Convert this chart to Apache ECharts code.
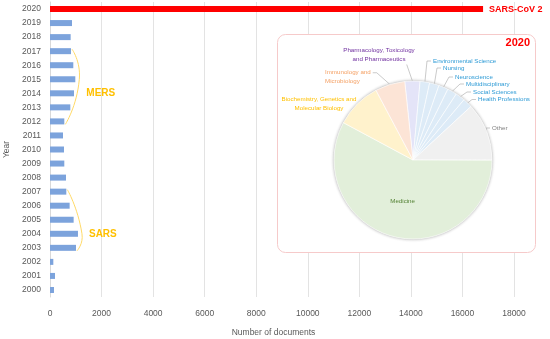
<!DOCTYPE html>
<html><head><meta charset="utf-8">
<script src="https://cdn.jsdelivr.net/npm/echarts@6/dist/echarts.min.js"></script>
<style>html,body{margin:0;padding:0;background:#fff}#c{width:550px;height:339px}</style>
</head><body><div id="c"></div>
<script>
// ---- data ----
const years = ['2000','2001','2002','2003','2004','2005','2006','2007','2008','2009','2010','2011','2012','2013','2014','2015','2016','2017','2018','2019','2020'];
const documents = [155,194,129,1008,1085,917,762,633,620,555,543,504,555,788,930,982,904,814,801,853,16800];
const xTicks = [0,2000,4000,6000,8000,10000,12000,14000,16000,18000];
const pieNames = ['Pharmacology, Toxicology\nand Pharmaceutics','Environmental Science','Nursing','Neuroscience','Multidisciplinary','Social Sciences','Health Professions','Other','Medicine','Biochemistry, Genetics and\nMolecular Biology','Immunology and\nMicrobiology'];
const pieShares = [3.1,1.95,1.95,1.95,1.95,1.95,1.95,11.9,57.8,9.4,6.1];
const highlightYear = '2020';
const highlightLabel = 'SARS-CoV 2';
const pieTitle = '2020';
const outbreaks = [{name:'MERS', from:'2012', to:'2017', textAt:'2014'}, {name:'SARS', from:'2003', to:'2007', textAt:'2004'}];

// ---- style ----
const FONT = 'Liberation Sans';
const LH = 8.5;
const pieColors = ['#e4e4f8','#ddebf7','#ddebf7','#ddebf7','#ddebf7','#ddebf7','#ddebf7','#f0f0f0','#e2efda','#fff2cc','#fce4d6'];
const labelColors = ['#7030a0','#2e9bd6','#2e9bd6','#2e9bd6','#2e9bd6','#2e9bd6','#2e9bd6','#808080','#548235','#ffc000','#f4a064'];
// label layout: [x, y, align] (null = default inside)
const labelPos = [[379,55,'center'],[433,61,'left'],[443,68,'left'],[455,77,'left'],[466,84,'left'],[473,92,'left'],[478,99.5,'left'],[492,128,'left'],null,[319,104,'center'],[325,77,'left']];
const noLine = ['Medicine','Biochemistry, Genetics and\nMolecular Biology'];

const chart = echarts.init(document.getElementById('c'));
const barData = documents.map((v,i)=> years[i]===highlightYear ? {
  value:v, itemStyle:{color:'#ff0000'},
  label:{show:true, position:'right', distance:6, formatter:highlightLabel, color:'#ff0000', fontWeight:'bold', fontSize:9, fontFamily:FONT}
} : v);

const pieData = pieNames.map((n,i)=>{
  const d = {name:n, value:pieShares[i], itemStyle:{color:pieColors[i]}, label:{color:labelColors[i]}};
  if (n==='Medicine') { d.label.position='inside'; }
  if (noLine.indexOf(n)>=0) d.labelLine={show:false};
  return d;
});

function sectorEdgePoint(idx){
  try {
    const data = chart.getModel().getSeriesByIndex(1).getData();
    const L = data.getItemLayout(idx);
    const m = (L.startAngle + L.endAngle)/2;
    return [L.cx + L.r*Math.cos(m), L.cy + L.r*Math.sin(m)];
  } catch(e) { return null; }
}

function pieLabelLayout(p){
  const lp = labelPos[p.dataIndex];
  if (!lp) return {};
  const w = p.labelRect.width, h = p.labelRect.height;
  const left = lp[2]==='left' ? lp[0] : lp[2]==='center' ? lp[0]-w/2 : lp[0]-w;
  const right = left + w, top = lp[1]-h/2, bottom = lp[1]+h/2;
  const res = {x:lp[0], y:lp[1], align:lp[2], verticalAlign:'middle'};
  const s = sectorEdgePoint(p.dataIndex);
  if (s) {
    const ya = top + LH/2;
    let line;
    if (s[0] > right) line = [s, [right+6, ya], [right+2, ya]];
    else if (s[0] < left) line = [s, [left-6, ya], [left-2, ya]];
    else { const ex = Math.min(s[0]-5, right-8); line = [s, [ex, bottom+1], [ex, bottom+1]]; }
    res.labelLinePoints = line;
  }
  return res;
}

chart.setOption({
  animation:false,
  grid:{left:50, right:36, top:2, bottom:42, containLabel:false, outerBoundsMode:'none'},
  xAxis:{type:'value', min:xTicks[0], max:xTicks[xTicks.length-1], interval:xTicks[1]-xTicks[0],
    name:'Number of documents', nameLocation:'middle', nameGap:31,
    nameTextStyle:{color:'#595959', fontSize:8.5, fontFamily:FONT, padding:[0,17,0,0]},
    axisLine:{show:false}, axisTick:{show:false},
    axisLabel:{color:'#595959', fontSize:8.5, fontFamily:FONT, margin:12, formatter:v=>String(v)},
    splitLine:{lineStyle:{color:'#e3e3e3', width:1}}},
  yAxis:{type:'category', data:years,
    name:'Year', nameLocation:'middle', nameGap:39, nameRotate:90,
    nameTextStyle:{color:'#595959', fontSize:8.5, fontFamily:FONT},
    axisLine:{show:true, lineStyle:{color:'#d9d9d9'}}, axisTick:{show:false},
    axisLabel:{color:'#595959', fontSize:8.5, fontFamily:FONT, margin:9}},
  graphic:[
    {id:'box', type:'rect', z:1, shape:{x:277.5, y:34.5, width:258, height:218, r:8}, style:{fill:'#fff', stroke:'#f6caca', lineWidth:1}},
    {id:'ptitle', type:'text', z:5, x:530, y:43, style:{text:pieTitle, fill:'#ff0000', font:'bold 11px '+FONT, textAlign:'right', textVerticalAlign:'middle'}}
  ],
  series:[
    {type:'bar', data:barData, barWidth:6, itemStyle:{color:'#7ca3dc'}, z:3},
    {type:'pie', z:4, center:[413,160], radius:79, startAngle:96, clockwise:true,
      data:pieData, avoidLabelOverlap:false,
      itemStyle:{borderColor:'#fff', borderWidth:0.6},
      label:{show:true, fontSize:6.2, fontFamily:FONT, lineHeight:LH},
      labelLine:{show:true, length:6, length2:4, lineStyle:{color:'#a6a6a6', width:0.6}},
      emphasis:{disabled:true},
      labelLayout:pieLabelLayout
    },
    // decorative rim shadow behind the pie
    {type:'pie', z:3, silent:true, center:[413,160], radius:79, data:[1],
      itemStyle:{color:'#ffffff', borderColor:'#d4d4d4', borderWidth:1, shadowBlur:3, shadowColor:'rgba(0,0,0,0.25)'},
      label:{show:false}, labelLine:{show:false}, emphasis:{disabled:true}, tooltip:{show:false}}
  ]
});

// ---- outbreak brackets (placed from data via the axes) ----
const gfx = [];
outbreaks.forEach((o,k)=>{
  const i0 = years.indexOf(o.from), i1 = years.indexOf(o.to);
  let maxV = 0, maxI = i0;
  for (let i=i0;i<=i1;i++){ if (documents[i]>maxV){maxV=documents[i]; maxI=i;} }
  const top = chart.convertToPixel({seriesIndex:0}, [documents[i1], years[i1]]);
  const bot = chart.convertToPixel({seriesIndex:0}, [documents[i0], years[i0]]);
  const mid = chart.convertToPixel({seriesIndex:0}, [maxV, years[maxI]]);
  const txt = chart.convertToPixel({seriesIndex:0}, [maxV, o.textAt]);
  gfx.push({id:'br'+k, type:'polyline', z:5, shape:{points:[[top[0]+1,top[1]-2],[mid[0]+4,mid[1]],[bot[0]+1,bot[1]+3]], smooth:0.6},
    style:{stroke:'#ffd966', lineWidth:1, fill:null}});
  gfx.push({id:'bt'+k, type:'text', z:5, x:mid[0]+11, y:txt[1], style:{text:o.name, fill:'#ffc000', font:'bold 10px '+FONT, textVerticalAlign:'middle'}});
});
chart.setOption({graphic:gfx});
</script></body></html>
